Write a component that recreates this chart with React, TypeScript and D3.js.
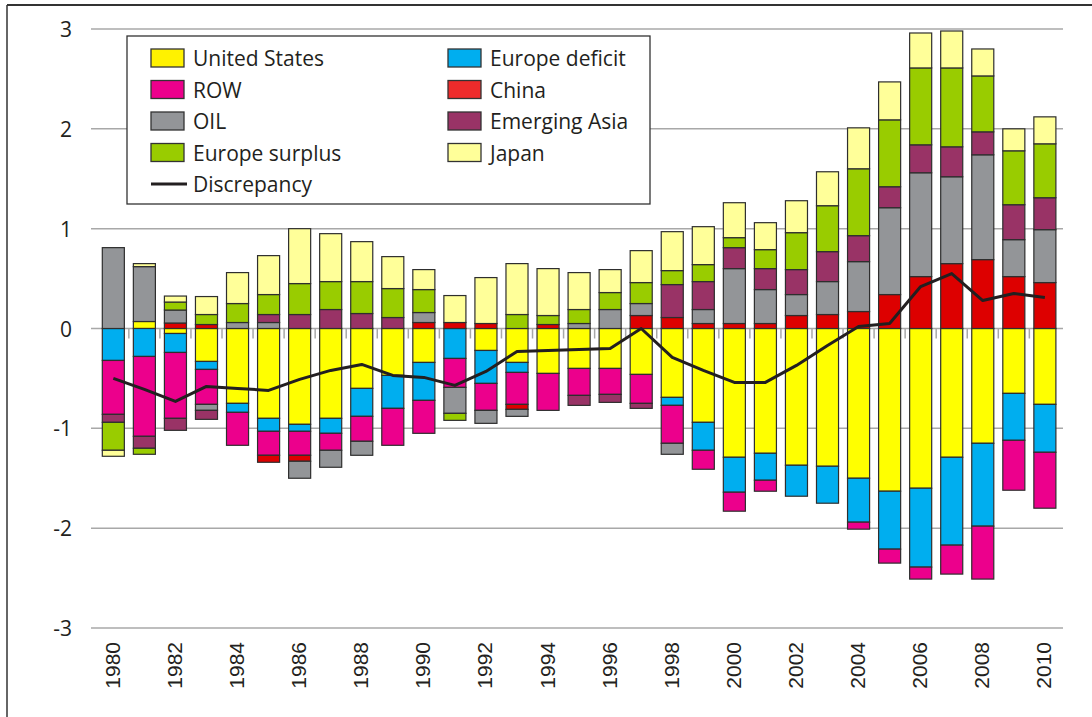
import React from "react";
import * as d3 from "d3";

const years = [1980, 1981, 1982, 1983, 1984, 1985, 1986, 1987, 1988, 1989, 1990, 1991, 1992, 1993, 1994, 1995, 1996, 1997, 1998, 1999, 2000, 2001, 2002, 2003, 2004, 2005, 2006, 2007, 2008, 2009, 2010];

const unitedStates = [0, 0.07, -0.05, -0.33, -0.75, -0.9, -0.96, -0.9, -0.6, -0.47, -0.34, 0, -0.22, -0.34, -0.45, -0.4, -0.4, -0.46, -0.69, -0.94, -1.29, -1.25, -1.37, -1.38, -1.5, -1.63, -1.6, -1.29, -1.15, -0.65, -0.76];
const europeDeficit = [-0.32, -0.28, -0.19, -0.08, -0.09, -0.13, -0.07, -0.15, -0.28, -0.33, -0.38, -0.3, -0.33, -0.1, 0, 0, 0, 0, -0.08, -0.28, -0.35, -0.27, -0.31, -0.37, -0.44, -0.58, -0.79, -0.88, -0.83, -0.47, -0.48];
const row = [-0.54, -0.8, -0.66, -0.35, -0.33, -0.24, -0.24, -0.17, -0.25, -0.37, -0.33, -0.29, -0.27, -0.32, -0.37, -0.27, -0.26, -0.29, -0.38, -0.19, -0.19, -0.11, 0, 0, -0.07, -0.14, -0.12, -0.29, -0.53, -0.5, -0.56];
const china = [0, 0, 0.055, 0.04, 0, -0.07, -0.06, 0, 0, 0, 0.06, 0.06, 0.05, -0.05, 0.04, 0, 0, 0.13, 0.11, 0.05, 0.05, 0.05, 0.13, 0.14, 0.17, 0.34, 0.52, 0.65, 0.69, 0.52, 0.46];
const oil = [0.81, 0.55, 0.13, -0.06, 0.06, 0.06, -0.17, -0.17, -0.14, 0, 0.1, -0.26, -0.13, -0.07, 0, 0.05, 0.19, 0.12, -0.11, 0.14, 0.55, 0.34, 0.21, 0.33, 0.5, 0.87, 1.04, 0.87, 1.05, 0.37, 0.53];
const emergingAsia = [-0.08, -0.12, -0.12, -0.09, 0, 0.08, 0.14, 0.19, 0.15, 0.11, 0, 0, 0, 0, 0, -0.1, -0.08, -0.05, 0.33, 0.28, 0.21, 0.21, 0.25, 0.3, 0.26, 0.21, 0.28, 0.3, 0.23, 0.35, 0.32];
const europeSurplus = [-0.28, -0.06, 0.08, 0.1, 0.19, 0.2, 0.31, 0.28, 0.32, 0.29, 0.23, -0.07, 0, 0.14, 0.09, 0.14, 0.17, 0.21, 0.14, 0.17, 0.1, 0.19, 0.37, 0.46, 0.67, 0.67, 0.77, 0.79, 0.56, 0.54, 0.54];
const japan = [-0.06, 0.03, 0.06, 0.18, 0.31, 0.39, 0.55, 0.48, 0.4, 0.32, 0.2, 0.27, 0.46, 0.51, 0.47, 0.37, 0.23, 0.32, 0.39, 0.38, 0.35, 0.27, 0.32, 0.34, 0.41, 0.38, 0.35, 0.37, 0.27, 0.22, 0.27];
const discrepancy = [-0.5, -0.61, -0.73, -0.58, -0.6, -0.62, -0.51, -0.42, -0.36, -0.47, -0.49, -0.57, -0.43, -0.23, -0.22, -0.21, -0.2, 0, -0.29, -0.42, -0.54, -0.54, -0.37, -0.17, 0.02, 0.05, 0.42, 0.55, 0.28, 0.35, 0.31];

const yTicks = [-3, -2, -1, 0, 1, 2, 3];
const xTickYears = [1980, 1982, 1984, 1986, 1988, 1990, 1992, 1994, 1996, 1998, 2000, 2002, 2004, 2006, 2008, 2010];

const seriesDefs = [
  { key: "us", label: "United States", values: unitedStates, color: "#FFFF00", legend: "#FFF200" },
  { key: "eudef", label: "Europe deficit", values: europeDeficit, color: "#00AEEF", legend: "#00AEEF" },
  { key: "row", label: "ROW", values: row, color: "#EC008C", legend: "#EC008C" },
  { key: "china", label: "China", values: china, color: "#DD0000", legend: "#EE2B2B" },
  { key: "oil", label: "OIL", values: oil, color: "#939598", legend: "#939598" },
  { key: "easia", label: "Emerging Asia", values: emergingAsia, color: "#993366", legend: "#993366" },
  { key: "eusur", label: "Europe surplus", values: europeSurplus, color: "#99CC00", legend: "#99CC00" },
  { key: "japan", label: "Japan", values: japan, color: "#FFFF99", legend: "#FFFF99" },
];

const legendCol1 = ["us", "row", "oil", "eusur"];
const legendCol2 = ["eudef", "china", "easia", "japan"];

const FONT = "'Open Sans', 'DejaVu Sans', sans-serif";
const TEXT = "#231F20";

export default function App() {
  const W = 1092;
  const H = 717;
  const x = d3
    .scaleBand<number>()
    .domain(years)
    .range([97.8, 1060.4])
    .paddingInner(0.29)
    .paddingOuter(0.145);
  const y = d3.scaleLinear().domain([-3, 3]).range([628, 29]);
  const step = x.step();
  const cx = (yr: number) => (x(yr) as number) + x.bandwidth() / 2;

  const rows = years.map((yr, i) => {
    const o: any = { year: yr };
    seriesDefs.forEach((s) => (o[s.key] = s.values[i]));
    return o;
  });
  const stacked = d3
    .stack<any>()
    .keys(seriesDefs.map((s) => s.key))
    .offset(d3.stackOffsetDiverging)(rows);

  const line = d3
    .line<number>()
    .x((_, i) => cx(years[i]))
    .y((d) => y(d));

  const gridX0 = 91;
  const gridX1 = 1063;
  const byKey = (k: string) => seriesDefs.find((s) => s.key === k)!;
  const rowY = (i: number) => 58 + i * 31.5;

  return (
    <svg
      width={W}
      height={H}
      style={{ position: "absolute", left: 0, top: 0, display: "block", background: "#fff" }}
    >
      {/* frame */}
      <line x1={7} x2={W} y1={5} y2={5} stroke="#333" strokeWidth={2} />
      <line x1={7} x2={7} y1={5} y2={H} stroke="#333" strokeWidth={1.5} />

      {/* grid */}
      {yTicks.map((t) => (
        <line key={"g" + t} x1={gridX0} x2={gridX1} y1={y(t)} y2={y(t)} stroke="#A8A8A8" strokeWidth={1.5} />
      ))}
      {years.slice(1).map((yr) => (
        <line
          key={"t" + yr}
          x1={cx(yr) - step / 2}
          x2={cx(yr) - step / 2}
          y1={y(0)}
          y2={y(0) + 10}
          stroke="#A8A8A8"
          strokeWidth={1.5}
        />
      ))}

      {/* y labels */}
      {yTicks.map((t) => (
        <text
          key={"yl" + t}
          x={72}
          y={y(t)}
          textAnchor="end"
          dominantBaseline="central"
          fontFamily={FONT}
          fontSize={21}
          fill={TEXT}
        >
          {t}
        </text>
      ))}

      {/* x labels */}
      {xTickYears.map((yr) => (
        <text
          key={"xl" + yr}
          transform={`translate(${cx(yr) - 1},642) rotate(-90)`}
          textAnchor="end"
          dominantBaseline="central"
          fontFamily="'Liberation Sans', Arial, sans-serif"
          fontSize={21}
          fill={TEXT}
        >
          {yr}
        </text>
      ))}

      {/* bars */}
      {stacked.map((s) => {
        const def = byKey(s.key);
        return (
          <g key={s.key}>
            {s.map((d, i) =>
              Math.abs(d[1] - d[0]) < 1e-9 ? null : (
                <rect
                  key={i}
                  x={x(years[i])}
                  width={x.bandwidth()}
                  y={y(Math.max(d[0], d[1]))}
                  height={Math.abs(y(d[0]) - y(d[1]))}
                  fill={def.color}
                  stroke="#2E2E2E"
                  strokeWidth={1.2}
                />
              )
            )}
          </g>
        );
      })}

      {/* discrepancy */}
      <path d={line(discrepancy) || ""} fill="none" stroke="#231F20" strokeWidth={3} strokeLinejoin="round" />

      {/* legend */}
      <rect x={127} y={36} width={523} height={168} fill="#fff" stroke="#333" strokeWidth={1.3} />
      {legendCol1.map((k, i) => {
        const s = byKey(k);
        return (
          <g key={"lc1" + k}>
            <rect x={151} y={rowY(i) - 9} width={33} height={18} fill={s.legend} stroke="#333" strokeWidth={1.3} />
            <text x={193} y={rowY(i)} dominantBaseline="central" fontFamily={FONT} fontSize={21} fill={TEXT}>
              {s.label}
            </text>
          </g>
        );
      })}
      <line x1={151} x2={187} y1={rowY(4)} y2={rowY(4)} stroke="#231F20" strokeWidth={3} />
      <text x={193} y={rowY(4)} dominantBaseline="central" fontFamily={FONT} fontSize={21} fill={TEXT}>
        Discrepancy
      </text>
      {legendCol2.map((k, i) => {
        const s = byKey(k);
        return (
          <g key={"lc2" + k}>
            <rect x={448} y={rowY(i) - 9} width={33} height={18} fill={s.legend} stroke="#333" strokeWidth={1.3} />
            <text x={490} y={rowY(i)} dominantBaseline="central" fontFamily={FONT} fontSize={21} fill={TEXT}>
              {s.label}
            </text>
          </g>
        );
      })}
    </svg>
  );
}
